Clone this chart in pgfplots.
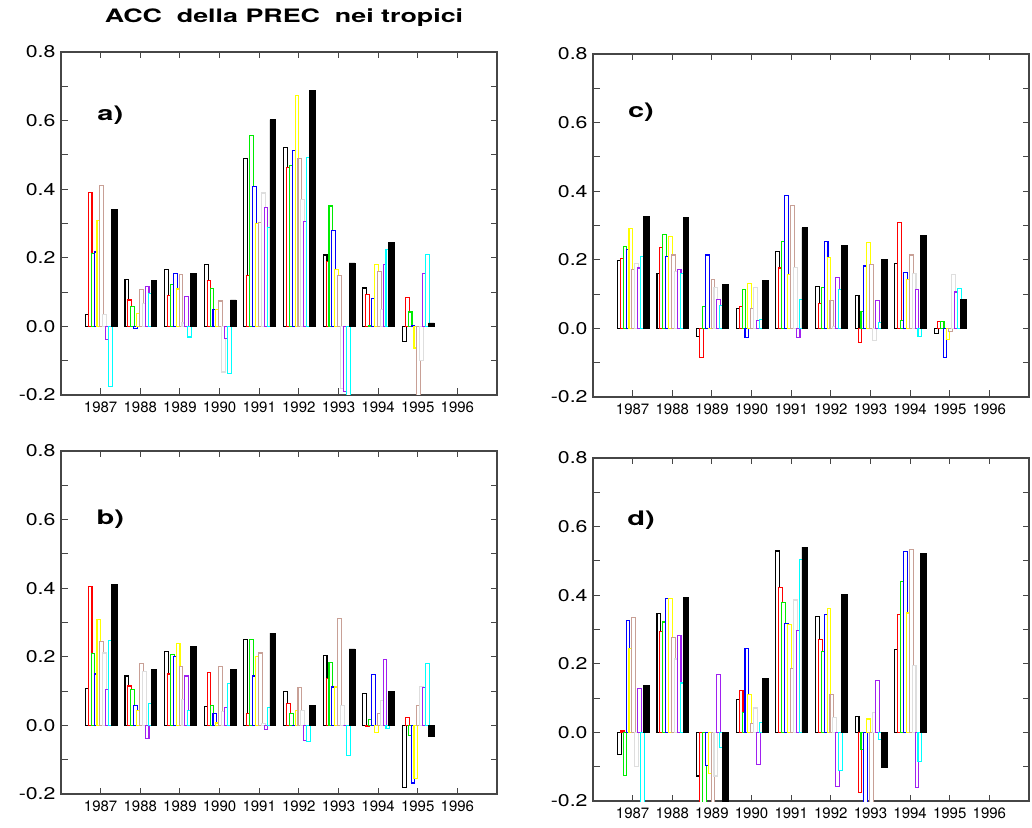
\documentclass[border=0pt]{standalone}
\usepackage{fontspec}
\setmainfont{TeX Gyre Heros}
\newfontfamily\titlefont[FakeStretch=1.45]{TeX Gyre Heros}
\newfontfamily\widefont[FakeStretch=1.25]{TeX Gyre Heros}
\usepackage{pgfplots}
\usepackage{pgfplotstable}
\pgfplotsset{compat=1.18}

\definecolor{cRed}{RGB}{255,0,0}
\definecolor{cGreen}{RGB}{0,235,0}
\definecolor{cBlue}{RGB}{0,0,255}
\definecolor{cYellow}{RGB}{255,255,0}
\definecolor{cRosy}{RGB}{200,160,150}
\definecolor{cGray}{RGB}{222,222,222}
\definecolor{cPurple}{RGB}{160,32,240}
\definecolor{cCyan}{RGB}{0,255,255}
\definecolor{frame}{RGB}{70,70,70}

% columns: s0 black outline, s1 red, s2 green, s3 blue, s4 yellow,
% s5 rosybrown, s6 light gray, s7 purple, s8 cyan, s9 black filled
% n = year - 1986
\pgfplotstableread{
n  s0     s1     s2     s3     s4     s5     s6     s7     s8     s9
1  0.034  0.391  0.212  0.217  0.308  0.411  0.034 -0.039 -0.175  0.340
2  0.137  0.077  0.059 -0.007  0.038  0.108  0.066  0.116  0.095  0.134
3  0.165  0.090  0.123  0.155  0.109  0.152  0.010  0.087 -0.031  0.155
4  0.180  0.134  0.111  0.048  0.049  0.074 -0.133 -0.035 -0.138  0.077
5  0.489  0.148  0.556  0.407  0.300  0.304  0.389  0.347  0.288  0.603
6  0.521  0.464  0.468  0.514  0.674  0.489  0.369  0.307  0.492  0.688
7  0.208  0.189  0.351  0.280  0.166  0.148 -0.180 -0.189 -0.250  0.185
8  0.112  0.094  0.003  0.081  0.180  0.161  0.049  0.180  0.223  0.244
9 -0.045  0.085  0.042  0.002 -0.063 -0.250 -0.099  0.153  0.209  0.010
}\tabA

\pgfplotstableread{
n  s0     s1     s2     s3     s4     s5     s6     s7     s8     s9
1  0.108  0.404  0.210  0.150  0.308  0.244  0.211  0.104  0.248  0.412
2  0.144  0.115  0.104  0.059  0.044  0.180  0.157 -0.037  0.065  0.162
3  0.215  0.150  0.208  0.200  0.240  0.172  0.075  0.144  0.044  0.230
4  0.055  0.154  0.059  0.036  0.007  0.172  0.040  0.051  0.122  0.162
5  0.251  0.036  0.251  0.144  0.201  0.211  0.005 -0.011  0.051  0.269
6  0.098  0.065  0.036  0.000  0.044  0.111  0.044 -0.043 -0.048  0.059
7  0.204  0.137  0.183  0.112  0.112  0.312  0.058  0.000 -0.087  0.223
8  0.094 -0.003  0.016  0.148 -0.022  0.036  0.072  0.191 -0.008  0.100
9 -0.180  0.022 -0.029 -0.168 -0.154  0.059  0.113  0.111  0.180 -0.033
}\tabB

\pgfplotstableread{
n  s0     s1     s2     s3     s4     s5     s6     s7     s8     s9
1  0.199  0.204  0.239  0.231  0.290  0.171  0.189  0.176  0.210  0.326
2  0.160  0.235  0.275  0.210  0.268  0.214  0.165  0.171  0.160  0.323
3 -0.024 -0.085  0.063  0.214  0.000  0.143  0.118  0.085  0.068  0.128
4  0.059  0.063  0.113 -0.027  0.131  0.059  0.120  0.023  0.026  0.140
5  0.224  0.176  0.254  0.387  0.156  0.358  0.178 -0.027  0.085  0.293
6  0.123  0.073  0.120  0.254  0.207  0.081  0.005  0.149  0.113  0.243
7  0.095 -0.042  0.048  0.182  0.250  0.186 -0.034  0.081  0.017  0.200
8  0.189  0.308  0.023  0.163  0.142  0.214  0.160  0.114 -0.024  0.271
9 -0.015  0.019  0.019 -0.086 -0.032 -0.010  0.156  0.106  0.117  0.085
}\tabC

\pgfplotstableread{
n  s0     s1     s2     s3     s4     s5     s6     s7     s8     s9
1 -0.065  0.004 -0.126  0.327  0.244  0.336 -0.100  0.129 -0.250  0.137
2  0.347  0.294  0.322  0.390  0.390  0.276  0.214  0.283  0.144  0.393
3 -0.127 -0.250 -0.250 -0.097 -0.120 -0.250 -0.127  0.169 -0.045 -0.250
4  0.097  0.122  0.057  0.244  0.111  0.026  0.071 -0.094  0.029  0.158
5  0.529  0.422  0.379  0.318  0.314  0.187  0.386  0.298  0.503  0.540
6  0.339  0.272  0.237  0.344  0.361  0.111  0.043 -0.158 -0.111  0.401
7  0.047 -0.175 -0.050 -0.250  0.039 -0.250  0.057  0.151 -0.020 -0.101
8  0.243  0.344  0.441  0.527  0.348  0.532  0.196 -0.161 -0.085  0.522
}\tabD

\pgfplotsset{
  accpanel/.style={
    scale only axis, width=436pt, height=343pt,
    xmin=0, xmax=11, ymin=-0.2, ymax=0.8,
    xtick={1,...,10},
    xticklabels={1987,1988,1989,1990,1991,1992,1993,1994,1995,1996},
    ytick={-0.2,0,0.2,0.4,0.6,0.8},
    minor ytick={-0.1,0.1,0.3,0.5,0.7},
    tick align=inside, tick pos=both, ticklabel pos=left,
    major tick length=6.5pt, minor tick length=6.5pt,
    axis line style={line width=1.3pt, frame},
    tick style={line width=1.1pt, frame},
    /pgf/number format/assume math mode=true,
    xticklabel style={font=\fontsize{15}{18}\selectfont, yshift=-3pt},
    yticklabel style={font=\widefont\fontsize{17}{20}\selectfont, xshift=-2pt,
      /pgf/number format/.cd, fixed, fixed zerofill, precision=1},
  },
  obar/.style={ybar, bar width=0.095, line width=1.1pt, fill=white},
}

\newcommand{\barset}[1]{%
  \addplot[obar, bar shift=-0.3375, draw=black]   table[x=n,y=s0]{#1};
  \addplot[obar, bar shift=-0.2645, draw=cRed]    table[x=n,y=s1]{#1};
  \addplot[obar, bar shift=-0.1915, draw=cGreen]  table[x=n,y=s2]{#1};
  \addplot[obar, bar shift=-0.1185, draw=cBlue]   table[x=n,y=s3]{#1};
  \addplot[obar, bar shift=-0.0455, draw=cYellow] table[x=n,y=s4]{#1};
  \addplot[obar, bar shift=0.0275,  draw=cRosy]   table[x=n,y=s5]{#1};
  \addplot[obar, bar shift=0.1005,  draw=cGray]   table[x=n,y=s6]{#1};
  \addplot[obar, bar shift=0.1735,  draw=cPurple] table[x=n,y=s7]{#1};
  \addplot[obar, bar shift=0.2465,  draw=cCyan]   table[x=n,y=s8]{#1};
  \addplot[ybar, bar width=0.145, bar shift=0.3445, draw=black, fill=black, line width=0.8pt]
    table[x=n,y=s9]{#1};
}

\newcommand{\plabel}[1]{\titlefont\bfseries\fontsize{20}{22}\selectfont #1}

\begin{document}
\begin{tikzpicture}
\useasboundingbox (0pt,0pt) rectangle (1032pt,827pt);

\node[font=\titlefont\bfseries\fontsize{18.5}{22}\selectfont] at (284pt,809pt)
  {ACC\ \ della PREC\ \ nei tropici};

% a)
\begin{axis}[accpanel, at={(61pt,432pt)}, anchor=south west]
\barset{\tabA}
\node at (rel axis cs:0.113,0.815) {\plabel{a)}};
\end{axis}

% c)
\begin{axis}[accpanel, at={(593pt,430pt)}, anchor=south west]
\barset{\tabC}
\node at (rel axis cs:0.11,0.83) {\plabel{c)}};
\end{axis}

% b)
\begin{axis}[accpanel, at={(61pt,33pt)}, anchor=south west]
\barset{\tabB}
\node at (rel axis cs:0.113,0.80) {\plabel{b)}};
\end{axis}

% d)
\begin{axis}[accpanel, at={(593pt,26pt)}, anchor=south west]
\barset{\tabD}
\node at (rel axis cs:0.11,0.818) {\plabel{d)}};
\end{axis}

\end{tikzpicture}
\end{document}
